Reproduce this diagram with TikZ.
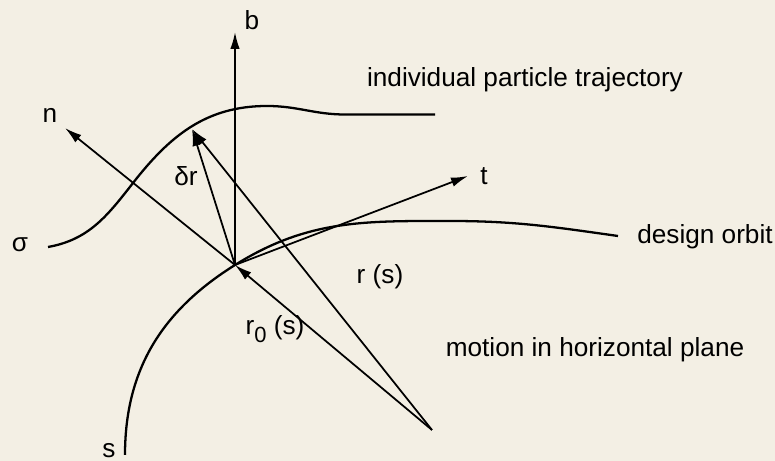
\documentclass[tikz,border=0pt]{standalone}
\usepackage{fontspec}
\setmainfont{Liberation Sans}
\usepackage{xcolor}
\usepackage{tikz}
\usetikzlibrary{arrows.meta,positioning,calc}
\definecolor{paper}{RGB}{243,239,228}
\newcommand{\lowsub}[1]{\raisebox{-0.55ex}{\fontsize{12.5}{14}\selectfont #1}}

\begin{document}
\begin{tikzpicture}[>={Latex[length=3.4mm,width=1.9mm]},line width=1pt,
  every node/.style={font=\fontsize{14.9}{18}\selectfont,inner sep=1pt},
  curve/.style={line width=1.3pt}]
  \fill[paper] (0,0) rectangle (15.5,9.22);
  \useasboundingbox (0,0) rectangle (15.5,9.22);
  % points of the figure
  \coordinate (O) at (4.70,3.92);
  \coordinate (P) at (3.84,6.64);
  \coordinate (Q) at (8.64,0.62);
  \coordinate (btip) at (4.70,8.58);
  \coordinate (ntip) at (1.30,6.66);
  \coordinate (ttip) at (9.36,5.70);
  % design orbit and particle trajectory
  \draw[curve] (2.50,0.12) to[out=90,in=212] (O) to[out=32,in=180] (9.0,4.80)
    to[out=0,in=172] (12.36,4.50);
  \draw[curve] (0.96,4.28) to[out=10,in=232] (2.66,5.56) to[out=52,in=180] (5.34,7.10)
    to[out=0,in=180] (6.9,6.93) -- (8.70,6.93);
  % local frame
  \draw[->] (O)--(btip);
  \draw[->] (O)--(ntip);
  \draw[->] (O)--(ttip);
  \draw[->] (O)--(P);
  \draw[->] (Q)--(P);
  \draw[->] (Q)--(O);
  % labels
  \node (b) at (5.04,8.82) {b};
  \node (n) at (1.00,6.92) {n};
  \node (t) at (9.68,5.70) {t};
  \node (dr) at (3.72,5.70) {δr};
  \node (r) at (7.60,3.68) {r (s)};
  \node (r0) at (5.50,2.64) {r\lowsub{0} (s)};
  \node (sigma) at (0.40,4.32) {σ};
  \node (s) at (2.18,0.20) {s};
  \node (traj) at (10.50,7.62) {individual particle trajectory};
  \node (orbit) at (14.10,4.48) {design orbit};
  \node (plane) at (11.90,2.22) {motion in horizontal plane};
\end{tikzpicture}
\end{document}
